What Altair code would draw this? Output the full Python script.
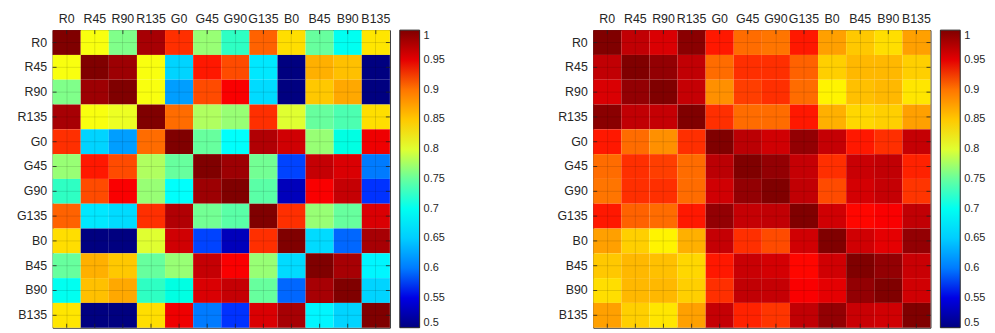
import altair as alt
import pandas as pd

labels = ["R0", "R45", "R90", "R135", "G0", "G45", "G90", "G135", "B0", "B45", "B90", "B135"]

# Left matrix rows
L_R0   = [1.00, 0.81, 0.76, 0.98, 0.93, 0.77, 0.73, 0.91, 0.835, 0.75, 0.70, 0.83]
L_R45  = [0.81, 1.00, 0.985, 0.81, 0.655, 0.935, 0.92, 0.67, 0.50, 0.865, 0.855, 0.50]
L_R90  = [0.76, 0.985, 1.00, 0.81, 0.62, 0.92, 0.94, 0.66, 0.50, 0.85, 0.87, 0.50]
L_R135 = [0.98, 0.81, 0.805, 1.00, 0.905, 0.78, 0.77, 0.93, 0.80, 0.75, 0.74, 0.835]
L_G0   = [0.93, 0.655, 0.62, 0.905, 1.00, 0.75, 0.69, 0.975, 0.96, 0.77, 0.71, 0.945]
L_G45  = [0.77, 0.935, 0.92, 0.78, 0.75, 1.00, 0.985, 0.755, 0.575, 0.965, 0.955, 0.60]
L_G90  = [0.73, 0.92, 0.94, 0.77, 0.69, 0.985, 1.00, 0.745, 0.53, 0.94, 0.965, 0.57]
L_G135 = [0.91, 0.67, 0.66, 0.93, 0.975, 0.755, 0.745, 1.00, 0.93, 0.77, 0.75, 0.955]
L_B0   = [0.835, 0.50, 0.50, 0.80, 0.96, 0.575, 0.53, 0.93, 1.00, 0.66, 0.59, 0.98]
L_B45  = [0.75, 0.865, 0.85, 0.75, 0.77, 0.965, 0.94, 0.77, 0.66, 1.00, 0.98, 0.68]
L_B90  = [0.70, 0.855, 0.87, 0.73, 0.71, 0.955, 0.965, 0.75, 0.59, 0.98, 1.00, 0.655]
L_B135 = [0.83, 0.50, 0.50, 0.835, 0.945, 0.60, 0.57, 0.955, 0.98, 0.68, 0.655, 1.00]

# Right matrix rows
R_R0   = [1.00, 0.967, 0.955, 0.995, 0.935, 0.905, 0.90, 0.935, 0.875, 0.85, 0.835, 0.875]
R_R45  = [0.967, 1.00, 0.99, 0.967, 0.905, 0.93, 0.93, 0.91, 0.845, 0.86, 0.86, 0.845]
R_R90  = [0.955, 0.99, 1.00, 0.965, 0.885, 0.925, 0.93, 0.905, 0.82, 0.855, 0.86, 0.83]
R_R135 = [0.995, 0.967, 0.965, 1.00, 0.93, 0.905, 0.905, 0.935, 0.865, 0.84, 0.845, 0.875]
R_G0   = [0.935, 0.905, 0.885, 0.93, 1.00, 0.97, 0.96, 0.99, 0.965, 0.935, 0.93, 0.965]
R_G45  = [0.905, 0.93, 0.925, 0.905, 0.97, 1.00, 0.99, 0.965, 0.93, 0.963, 0.967, 0.933]
R_G90  = [0.90, 0.93, 0.93, 0.905, 0.96, 0.99, 1.00, 0.967, 0.92, 0.958, 0.965, 0.928]
R_G135 = [0.935, 0.91, 0.905, 0.935, 0.99, 0.965, 0.967, 1.00, 0.96, 0.937, 0.94, 0.967]
R_B0   = [0.875, 0.845, 0.82, 0.865, 0.965, 0.93, 0.92, 0.96, 1.00, 0.96, 0.95, 0.99]
R_B45  = [0.85, 0.86, 0.855, 0.84, 0.935, 0.963, 0.958, 0.937, 0.96, 1.00, 0.99, 0.963]
R_B90  = [0.835, 0.86, 0.86, 0.845, 0.93, 0.967, 0.965, 0.94, 0.95, 0.99, 1.00, 0.96]
R_B135 = [0.875, 0.845, 0.83, 0.875, 0.965, 0.933, 0.928, 0.967, 0.99, 0.963, 0.96, 1.00]

left_rows = [L_R0, L_R45, L_R90, L_R135, L_G0, L_G45, L_G90, L_G135, L_B0, L_B45, L_B90, L_B135]
right_rows = [R_R0, R_R45, R_R90, R_R135, R_G0, R_G45, R_G90, R_G135, R_B0, R_B45, R_B90, R_B135]

cbar_ticks = [0.5, 0.55, 0.6, 0.65, 0.7, 0.75, 0.8, 0.85, 0.9, 0.95, 1.0]

jet_domain = [0.5, 0.5625, 0.6875, 0.8125, 0.9375, 1.0]
jet_range = ["#000080", "#0000ff", "#00ffff", "#ffff00", "#ff0000", "#800000"]

W, H = 340, 300
TXT = "#262626"


def to_long(rows):
    recs = []
    for i, r in enumerate(rows):
        for j, v in enumerate(r):
            recs.append({"row": labels[i], "col": labels[j], "value": v})
    return pd.DataFrame(recs)


def cat_scale():
    return alt.Scale(domain=labels, paddingInner=0, paddingOuter=0)


def panel(rows):
    df = to_long(rows)
    xs = alt.X("col:N", sort=None, scale=cat_scale(),
               axis=alt.Axis(orient="top", title=None, labelAngle=0, ticks=False,
                             labelPadding=5, grid=True, gridColor="#000000",
                             gridOpacity=0.12, domain=False, zindex=1))
    ys = alt.Y("row:N", sort=None, scale=cat_scale(),
               axis=alt.Axis(title=None, ticks=False, labelPadding=6, grid=True,
                             gridColor="#000000", gridOpacity=0.12, domain=False, zindex=1))
    heat = alt.Chart(df).mark_rect().encode(
        x=xs, y=ys,
        color=alt.Color("value:Q",
                        scale=alt.Scale(domain=jet_domain, range=jet_range, clamp=True),
                        legend=alt.Legend(title=None, values=cbar_ticks, tickCount=11,
                                          format="~g",
                                          gradientLength=H, gradientThickness=20,
                                          gradientStrokeColor=TXT, gradientStrokeWidth=1,
                                          labelOverlap=False, labelSeparation=0,
                                          offset=10, padding=0,
                                          labelOffset=4, labelFontSize=11, labelColor=TXT,
                                          labelFont="Liberation Sans")),
    )
    tick_df = pd.DataFrame({"col": labels, "row": labels})
    tx = alt.X("col:N", sort=None, scale=cat_scale())
    ty = alt.Y("row:N", sort=None, scale=cat_scale())
    top = alt.Chart(tick_df).mark_rule(color=TXT, strokeWidth=0.8).encode(
        x=tx, y=alt.value(0), y2=alt.value(4))
    bot = alt.Chart(tick_df).mark_rule(color=TXT, strokeWidth=0.8).encode(
        x=tx, y=alt.value(H), y2=alt.value(H - 4))
    lft = alt.Chart(tick_df).mark_rule(color=TXT, strokeWidth=0.8).encode(
        y=ty, x=alt.value(0), x2=alt.value(4))
    rgt = alt.Chart(tick_df).mark_rule(color=TXT, strokeWidth=0.8).encode(
        y=ty, x=alt.value(W), x2=alt.value(W - 4))
    return alt.layer(heat, top, bot, lft, rgt).properties(width=W, height=H)


chart = alt.hconcat(panel(left_rows), panel(right_rows), spacing=110).resolve_scale(
    color="independent").resolve_legend(color="independent").properties(
    padding={"left": 7, "top": 2, "right": 0, "bottom": 0}
).configure_view(stroke=TXT, strokeWidth=1).configure_axis(
    labelFont="Liberation Sans", labelFontSize=12.5, labelColor=TXT
).configure_legend(labelOverlap=False)

chart.save("out.html", embed_options={"renderer": "svg", "actions": False})
